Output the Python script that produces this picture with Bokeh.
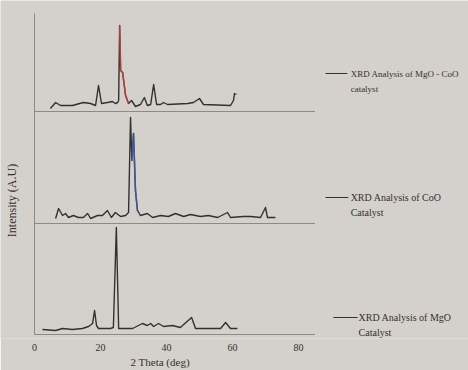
import math

from bokeh.core.properties import value
from bokeh.embed import file_html
from bokeh.models import FixedTicker, Range1d, Title
from bokeh.plotting import figure
from bokeh.resources import INLINE

# --- XRD patterns: 2-theta (deg) and intensity (a.u.) -----------------------
mgo_coo_theta = [4.8, 6.4, 7.9, 11.5, 14.8, 17.0, 18.5, 19.4, 20.3, 22.1, 23.6,
                 24.5, 25.2, 25.5, 25.8, 26.1, 26.7, 27.6, 28.5, 29.4, 30.6,
                 32.1, 33.3, 34.2, 35.2, 36.1, 37.0, 38.2, 39.1, 40.3, 46.4,
                 48.2, 50.0, 51.2, 59.4, 60.3, 60.6, 61.2]
mgo_coo_int = [3, 9, 6, 6, 9, 8, 6, 26, 8, 9, 10,
               8, 9, 11, 86, 41, 39, 16, 8, 11, 5,
               7, 14, 6, 7, 27, 7, 7, 9, 7, 8,
               9, 13, 7, 6, 11, 18, 17]

coo_theta = [6.4, 7.3, 8.5, 9.4, 10.3, 11.8, 13.3, 14.8, 16.1, 17.0, 19.1,
             20.6, 22.1, 23.3, 24.5, 26.1, 27.6, 28.5, 29.1, 29.5, 30.0,
             30.6, 31.2, 32.1, 34.2, 35.8, 38.2, 40.6, 42.7, 45.2, 47.3,
             50.3, 52.7, 55.5, 58.5, 59.4, 63.3, 65.5, 68.5, 70.0, 70.6, 73.0]
coo_int = [5, 15, 8, 10, 6, 8, 6, 6, 10, 5, 8,
           8, 13, 6, 11, 7, 8, 11, 106, 63, 90,
           33, 13, 8, 10, 6, 8, 7, 10, 7, 9,
           7, 8, 6, 11, 6, 7, 7, 6, 16, 6, 6]

mgo_theta = [2.4, 6.4, 8.5, 11.5, 14.5, 16.4, 17.6, 18.2, 18.8, 19.4, 23.0,
             23.9, 24.8, 25.5, 29.7, 31.5, 32.7, 34.2, 35.2, 36.1, 37.6,
             39.1, 41.8, 44.2, 47.6, 48.8, 56.4, 57.9, 59.4, 61.5]
mgo_int = [5, 4, 6, 5, 6, 8, 11, 24, 9, 6, 6,
           7, 107, 6, 6, 9, 11, 9, 11, 8, 11,
           8, 9, 7, 17, 6, 6, 12, 6, 6]

# highlighted reflection windows (deg)
mgo_coo_highlight = (25.8, 28.5)
coo_highlight = (29.4, 31.2)

x_ticks = [0, 20, 40, 60, 80]
x_title = "2 Theta (deg)"
y_title = "Intensity (A.U)"

legend_rows = [
    ["XRD Analysis of MgO - CoO", "catalyst"],
    ["XRD Analysis of CoO", "Catalyst"],
    ["XRD Analysis of MgO", "Catalyst"],
]

# --- layout constants --------------------------------------------------------
PX_PER_DEG = 3.3
ORIGIN_PX = 34
FRAME_H = 338
panel_offsets = [223, 111, 0]          # stacking offset of each pattern
panel_right = 85                        # where the baseline rules stop (deg)
axis_top = 321

INK = "#342f30"
RULE = "#8d8986"
PAPER = "#d4d1cc"
SERIF = "Liberation Serif"

p = figure(
    width=468, height=370,
    x_range=Range1d(-ORIGIN_PX / PX_PER_DEG, (468 - ORIGIN_PX) / PX_PER_DEG),
    y_range=Range1d(334 - FRAME_H, 334),
    y_axis_location=None,
    output_backend="svg", toolbar_location=None,
    min_border=0, min_border_bottom=370 - FRAME_H,
)
p.background_fill_color = PAPER
p.border_fill_color = PAPER
p.outline_line_color = None
p.grid.visible = False

ax = p.xaxis[0]
ax.ticker = FixedTicker(ticks=x_ticks)
ax.axis_line_color = None
ax.major_tick_line_color = None
ax.minor_tick_line_color = None
ax.major_tick_out = 0
ax.major_tick_in = 0
ax.major_label_standoff = 5
ax.major_label_text_font = SERIF
ax.major_label_text_font_size = "10px"
ax.major_label_text_color = INK

# x title sits under the 0-80 deg span rather than under the whole frame
p.add_layout(Title(text=x_title, align="left", offset=130, standoff=1,
                   text_font=SERIF, text_font_size="11px",
                   text_font_style="normal", text_color=INK), "below")

# frame rules: vertical intensity axis and one baseline per pattern
p.segment(x0=[0], y0=[0], x1=[0], y1=[axis_top], line_color=RULE, line_width=1)
p.segment(x0=[0] * 3, y0=panel_offsets, x1=[panel_right] * 3, y1=panel_offsets,
          line_color=RULE, line_width=1)

series = [
    (mgo_coo_theta, mgo_coo_int, panel_offsets[0], mgo_coo_highlight, "#c8413a"),
    (coo_theta, coo_int, panel_offsets[1], coo_highlight, "#3f5fa8"),
    (mgo_theta, mgo_int, panel_offsets[2], None, None),
]
for theta, inten, off, hl, hl_color in series:
    ys = [v + off for v in inten]
    p.line(theta, ys, line_color=INK, line_width=1.4, line_join="round")
    if hl:
        sel = [i for i, t in enumerate(theta) if hl[0] <= t <= hl[1]]
        p.line([theta[i] for i in sel], [ys[i] for i in sel],
               line_color=hl_color, line_width=1.6, line_alpha=0.85)

# legend entries (line sample + two-row caption)
legend_layout = [
    (88.2, 94.8, 95.8, 261, "9px"),
    (88.2, 95.1, 95.8, 137, "10px"),
    (90.6, 97.9, 98.2, 17, "10px"),
]
for (xa, xb, xt, yl, fs), rows in zip(legend_layout, legend_rows):
    p.segment(x0=[xa], y0=[yl], x1=[xb], y1=[yl], line_color=INK, line_width=1)
    p.text(x=[xt, xt], y=[yl, yl - 15], text=rows,
           text_font=value(SERIF), text_font_size=fs,
           text_color=INK, text_baseline="middle", text_align="left")

# rotated intensity caption
p.text(x=[-6.7], y=[134], text=[y_title], angle=math.pi / 2,
       text_font=value(SERIF), text_font_size="12px", text_color=INK,
       text_baseline="middle", text_align="center")

open("out.html", "w").write(file_html(p, INLINE))
